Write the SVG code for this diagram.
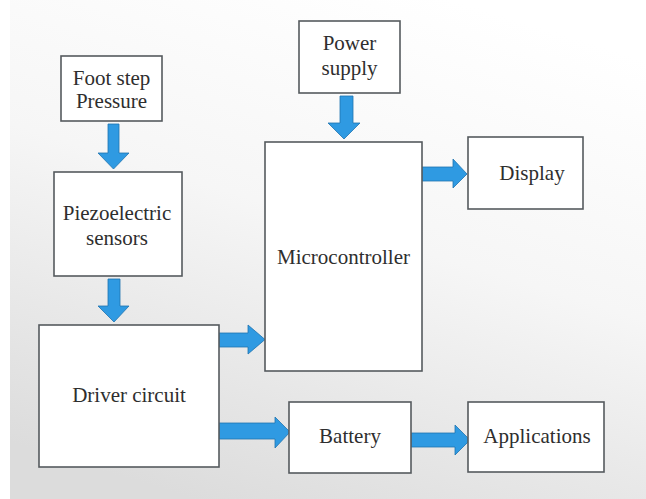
<svg xmlns="http://www.w3.org/2000/svg" width="646" height="499" viewBox="0 0 646 499">
<defs>
<linearGradient id="bg" x1="0.7" y1="0" x2="0.3" y2="1">
<stop offset="0" stop-color="#ffffff"/>
<stop offset="0.45" stop-color="#f6f6f6"/>
<stop offset="1" stop-color="#dcdcdc"/>
</linearGradient>
<style>
.box{fill:#ffffff;stroke:#555a5e;stroke-width:1.6}
.arr{fill:#2f9ae2;stroke:#1f73b0;stroke-width:0.8}
.t{font-family:'Liberation Serif','DejaVu Serif',serif;font-size:21px;fill:#2e2e2e;text-anchor:middle}
</style>
</defs>
<rect x="0" y="0" width="646" height="499" fill="url(#bg)"/>
<rect x="0" y="0" width="10" height="499" fill="#ffffff"/>
<g id="connectors">
<polygon class="arr" points="108,124 119,124 119,153 129,153 113.5,169 98,153 108,153"/>
<polygon class="arr" points="108,279 120,279 120,306 129,306 114,322 98,306 108,306"/>
<polygon class="arr" points="340,96 353,96 353,123 360,123 344,139 328,123 340,123"/>
<polygon class="arr" points="422,167 453,167 453,159 467,174 453,188 453,181 422,181"/>
<polygon class="arr" points="219,333 248,333 248,325 265,339.5 248,354 248,347 219,347"/>
<polygon class="arr" points="219,423 275,423 275,417 290,432 275,448 275,439 219,439"/>
<polygon class="arr" points="411,433 455,433 455,425 470,440 455,455 455,447 411,447"/>
</g>
<g id="foot-step">
<rect class="box" x="61" y="56" width="101" height="65"/>
<text class="t" x="111.5" y="85">Foot step</text>
<text class="t" x="111.5" y="108">Pressure</text>
</g>
<g id="piezo">
<rect class="box" x="54" y="172" width="128" height="104"/>
<text class="t" x="117" y="220">Piezoelectric</text>
<text class="t" x="117" y="245">sensors</text>
</g>
<g id="driver">
<rect class="box" x="39" y="325" width="180" height="142"/>
<text class="t" x="129" y="402">Driver circuit</text>
</g>
<g id="power">
<rect class="box" x="299" y="21" width="101" height="72"/>
<text class="t" x="349.5" y="50">Power</text>
<text class="t" x="349.5" y="75">supply</text>
</g>
<g id="micro">
<rect class="box" x="265" y="142" width="157" height="229"/>
<text class="t" x="343.5" y="264">Microcontroller</text>
</g>
<g id="display">
<rect class="box" x="468" y="137" width="115" height="72"/>
<text class="t" x="532" y="180">Display</text>
</g>
<g id="battery">
<rect class="box" x="289" y="402" width="122" height="71"/>
<text class="t" x="350" y="443">Battery</text>
</g>
<g id="applications">
<rect class="box" x="468" y="402" width="136" height="70"/>
<text class="t" x="537" y="443">Applications</text>
</g>
</svg>
